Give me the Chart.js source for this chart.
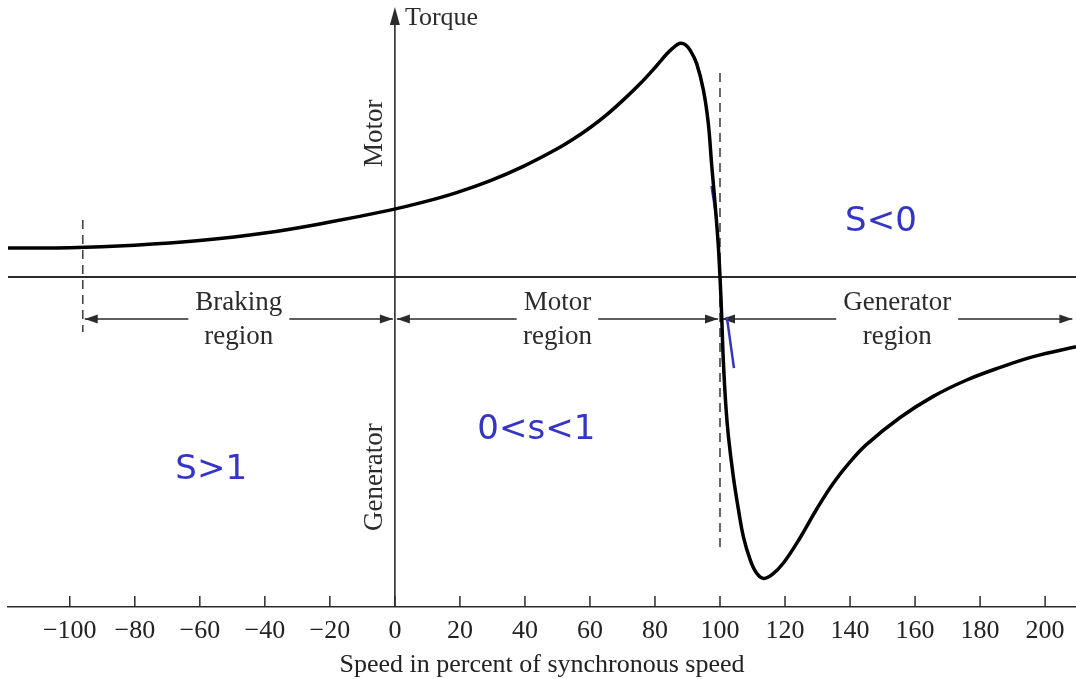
<!DOCTYPE html>
<html>
<head>
<meta charset="utf-8">
<script src="https://cdn.jsdelivr.net/npm/chart.js@4.4.0/dist/chart.umd.min.js"></script>
<style>
  html, body { margin: 0; padding: 0; background: #fff; }
  #wrap { width: 1076px; height: 679px; }
</style>
</head>
<body>
<div id="wrap"><canvas id="torque-chart"></canvas></div>
<script>
// speed in percent of synchronous speed, torque in percent of pull-out torque
const speed = [-119, -100, -80, -60, -40, -20, -1.5, 8.7, 19, 29.2, 39.5, 49.8, 54.9, 60, 65.1, 70.2, 75.4, 80.5, 83.6, 85.3, 86.9,
    88.0, 89.3, 90.8, 92.8, 94.9, 96.4, 97.4, 98.5, 99.4, 100, 100.5, 101, 101.8, 102.6, 104.1, 105.7, 107.2, 109.3, 111.3, 113.4,
    116, 119.5, 124.6, 129.8, 134.9, 140, 145.1, 155.4, 165.6, 175.9, 186.2, 196.4, 209.5];
const torque = [12.4, 12.5, 13.6, 15.6, 18.8, 23.5, 28.6, 32.0, 36.1, 41.1, 47.3, 54.7, 59.0, 63.8, 69.3, 75.6, 82.6, 90.3, 95.3, 97.6, 99.4,
    99.9, 99.3, 97.0, 91.3, 79.9, 65.7, 48.6, 31.0, 15.0, 0, -16, -35, -55, -68.2, -85.3, -99.6, -111.0, -120.9, -126.6, -128.8,
    -127.2, -122.2, -111.5, -99.0, -88.0, -79.0, -71.5, -60.0, -51.0, -44.0, -38.6, -34.0, -29.8];

const tickValues = [-100, -80, -60, -40, -20, 0, 20, 40, 60, 80, 100, 120, 140, 160, 180, 200];

// region boundaries and labels
const regionEdges = [-96, 0, 100, 209];
const regionNames = [['Braking', 'region'], ['Motor', 'region'], ['Generator', 'region']];
const regionArrowY = -17.9;

// dashed markers: [speed, top torque, bottom torque]
const brakeMark = [-96, 24.4, -23.5];
const syncMark = [100, 87.2, -117.1];

// handwritten notes
const notes = [
    { text: 'S<0', x: 149.5, y: 23.5 },
    { text: '0<s<1', x: 43.5, y: -65.5 },
    { text: 'S>1', x: -56.5, y: -82.5 }
];
const strokeA = [[97.4, 38.9], [99.0, 24.4]];
const strokeB = [[102.1, -17.0], [104.3, -38.9]];

const serif = '"Liberation Serif", "Times New Roman", serif';
const ink = '#2b2b2b';
const blue = '#3434c6';

function pts(xs, ys) {
    return xs.map((x, i) => ({ x: x, y: ys[i] }));
}

function arrowHead(ctx, x, y, dir) {
    ctx.beginPath();
    ctx.moveTo(x, y);
    ctx.lineTo(x - dir * 13, y - 4.5);
    ctx.lineTo(x - dir * 13, y + 4.5);
    ctx.closePath();
    ctx.fill();
}

const decorations = {
    id: 'decorations',
    beforeDatasetsDraw(chart) {
        const ctx = chart.ctx;
        const xs = chart.scales.x;
        const ys = chart.scales.y;
        const area = chart.chartArea;
        const x0 = xs.getPixelForValue(0);
        const y0 = ys.getPixelForValue(0);
        ctx.save();
        ctx.strokeStyle = ink;
        ctx.fillStyle = ink;

        // zero torque line
        ctx.lineWidth = 2;
        ctx.beginPath();
        ctx.moveTo(area.left, y0);
        ctx.lineTo(area.right, y0);
        ctx.stroke();

        // torque axis with arrow
        ctx.lineWidth = 1.6;
        ctx.beginPath();
        ctx.moveTo(x0, area.bottom);
        ctx.lineTo(x0, 20);
        ctx.stroke();
        ctx.beginPath();
        ctx.moveTo(x0, 7);
        ctx.lineTo(x0 - 5, 25);
        ctx.lineTo(x0 + 5, 25);
        ctx.closePath();
        ctx.fill();

        // tick marks above the speed axis
        ctx.lineWidth = 1.5;
        tickValues.forEach(v => {
            const px = xs.getPixelForValue(v);
            ctx.beginPath();
            ctx.moveTo(px, area.bottom);
            ctx.lineTo(px, area.bottom - 11);
            ctx.stroke();
        });

        ctx.font = '26px ' + serif;
        ctx.textBaseline = 'middle';
        ctx.textAlign = 'left';
        ctx.fillText('Torque', x0 + 10, 18);

        // rotated axis words
        ctx.font = '27px ' + serif;
        ctx.textAlign = 'center';
        [['Motor', 61.5], ['Generator', -85.5]].forEach(([w, t]) => {
            ctx.save();
            ctx.translate(x0 - 20, ys.getPixelForValue(t));
            ctx.rotate(-Math.PI / 2);
            ctx.fillText(w, 0, 0);
            ctx.restore();
        });

        // region arrows
        const ay = ys.getPixelForValue(regionArrowY);
        ctx.lineWidth = 1.5;
        for (let i = 0; i < regionNames.length; i++) {
            const a = xs.getPixelForValue(regionEdges[i]) + 2;
            const b = Math.min(xs.getPixelForValue(regionEdges[i + 1]), area.right) - 2;
            const mid = (a + b) / 2;
            const w = ctx.measureText(regionNames[i][0]).width / 2 + 7;
            ctx.beginPath();
            ctx.moveTo(a, ay);
            ctx.lineTo(mid - w, ay);
            ctx.moveTo(mid + w, ay);
            ctx.lineTo(b, ay);
            ctx.stroke();
            arrowHead(ctx, a, ay, -1);
            arrowHead(ctx, b, ay, 1);
            ctx.fillText(regionNames[i][0], mid, ay - 16);
            ctx.fillText(regionNames[i][1], mid, ay + 18);
        }
        ctx.restore();
    },
    afterDatasetsDraw(chart) {
        const ctx = chart.ctx;
        const xs = chart.scales.x;
        const ys = chart.scales.y;
        ctx.save();
        ctx.fillStyle = blue;
        ctx.font = '34px "DejaVu Sans", sans-serif';
        ctx.textAlign = 'center';
        ctx.textBaseline = 'middle';
        notes.forEach(n => {
            ctx.fillText(n.text, xs.getPixelForValue(n.x), ys.getPixelForValue(n.y));
        });
        ctx.restore();
    }
};

new Chart(document.getElementById('torque-chart'), {
    type: 'scatter',
    data: {
        datasets: [
            {
                label: 'Torque',
                data: pts(speed, torque),
                showLine: true,
                borderColor: '#000',
                borderWidth: 3.5,
                pointRadius: 0,
                tension: 0.4
            },
            {
                label: 'brake limit',
                data: [{ x: brakeMark[0], y: brakeMark[1] }, { x: brakeMark[0], y: brakeMark[2] }],
                showLine: true,
                borderColor: '#444',
                borderWidth: 1.6,
                borderDash: [9, 6],
                pointRadius: 0
            },
            {
                label: 'synchronous speed',
                data: [{ x: syncMark[0], y: syncMark[1] }, { x: syncMark[0], y: syncMark[2] }],
                showLine: true,
                borderColor: '#444',
                borderWidth: 1.6,
                borderDash: [9, 6],
                pointRadius: 0
            },
            {
                label: 'note a',
                data: strokeA.map(p => ({ x: p[0], y: p[1] })),
                showLine: true,
                borderColor: blue,
                borderWidth: 2.5,
                pointRadius: 0
            },
            {
                label: 'note b',
                data: strokeB.map(p => ({ x: p[0], y: p[1] })),
                showLine: true,
                borderColor: blue,
                borderWidth: 2.5,
                pointRadius: 0
            }
        ]
    },
    options: {
        responsive: true,
        maintainAspectRatio: false,
        animation: false,
        layout: { padding: { left: 8, right: 0, top: 0, bottom: 0 } },
        plugins: {
            legend: { display: false },
            tooltip: { enabled: false }
        },
        scales: {
            x: {
                type: 'linear',
                min: -119,
                max: 209.5,
                afterBuildTicks: function(scale) {
                    scale.ticks = tickValues.map(v => ({ value: v }));
                },
                grid: { drawOnChartArea: false, drawTicks: false },
                border: { display: true, color: ink, width: 1.6 },
                ticks: {
                    color: '#222',
                    padding: 11,
                    maxRotation: 0,
                    autoSkip: false,
                    font: { family: serif, size: 26, lineHeight: 1 },
                    callback: function(value) {
                        return value < 0 ? '\u2212' + Math.abs(value) : String(value);
                    }
                },
                title: {
                    display: true,
                    text: 'Speed in percent of synchronous speed',
                    color: '#222',
                    font: { family: serif, size: 26, lineHeight: 1 },
                    padding: { top: -3, bottom: 1 }
                }
            },
            y: {
                display: false,
                min: -141,
                max: 118.4
            }
        }
    },
    plugins: [decorations]
});
</script>
</body>
</html>
